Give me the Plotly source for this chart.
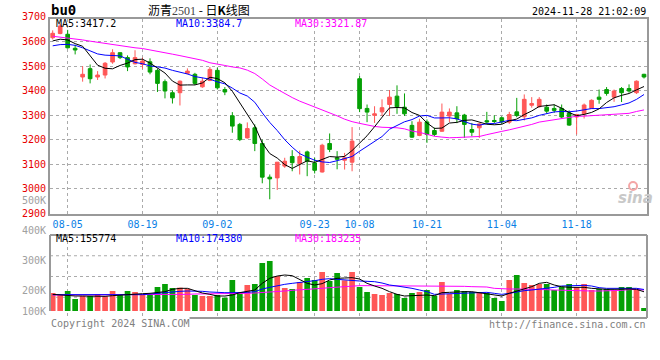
import plotly.graph_objects as go

# ---------------- data ----------------
dates = ["08-01", "08-02", "08-05", "08-06", "08-07", "08-08", "08-09", "08-12", "08-13", "08-14",
         "08-15", "08-16", "08-19", "08-20", "08-21", "08-22", "08-23", "08-26", "08-27", "08-28",
         "08-29", "08-30", "09-02", "09-03", "09-04", "09-05", "09-06", "09-09", "09-10", "09-11",
         "09-12", "09-13", "09-18", "09-19", "09-20", "09-23", "09-24", "09-25", "09-26", "09-27",
         "09-30", "10-08", "10-09", "10-10", "10-11", "10-14", "10-15", "10-16", "10-17", "10-18",
         "10-21", "10-22", "10-23", "10-24", "10-25", "10-28", "10-29", "10-30", "10-31", "11-01",
         "11-04", "11-05", "11-06", "11-07", "11-08", "11-11", "11-12", "11-13", "11-14", "11-15",
         "11-18", "11-19", "11-20", "11-21", "11-22", "11-25", "11-26", "11-27", "11-28", "11-29"]

opens = [3616, 3633, 3630, 3573, 3456, 3490, 3456, 3464, 3517, 3555,
         3535, 3510, 3507, 3518, 3483, 3437, 3392, 3392, 3471, 3467,
         3416, 3442, 3483, 3405, 3298, 3263, 3208, 3249, 3185, 3048,
         3045, 3093, 3132, 3103, 3151, 3106, 3069, 3185, 3127, 3117,
         3109, 3449, 3328, 3300, 3314, 3344, 3378, 3333, 3259, 3218,
         3273, 3238, 3235, 3297, 3310, 3301, 3242, 3249, 3278, 3279,
         3290, 3272, 3314, 3294, 3341, 3335, 3333, 3328, 3328, 3310,
         3293, 3306, 3328, 3374, 3405, 3374, 3409, 3409, 3392, 3467]
highs = [3646, 3672, 3648, 3587, 3500, 3507, 3480, 3517, 3569, 3556,
         3544, 3565, 3535, 3532, 3490, 3446, 3401, 3442, 3491, 3473,
         3453, 3497, 3494, 3415, 3313, 3269, 3271, 3263, 3201, 3059,
         3110, 3127, 3158, 3156, 3156, 3127, 3184, 3226, 3154, 3147,
         3252, 3460, 3344, 3337, 3365, 3403, 3422, 3389, 3276, 3286,
         3283, 3250, 3348, 3328, 3337, 3306, 3269, 3269, 3314, 3300,
         3295, 3314, 3371, 3385, 3374, 3374, 3344, 3344, 3344, 3320,
         3306, 3348, 3365, 3405, 3415, 3405, 3415, 3426, 3442, 3469]
lows = [3609, 3630, 3572, 3548, 3437, 3430, 3444, 3450, 3510, 3529,
        3480, 3507, 3490, 3467, 3395, 3369, 3348, 3340, 3467, 3423,
        3412, 3439, 3405, 3382, 3229, 3195, 3205, 3154, 3023, 2958,
        2996, 3086, 3072, 3059, 3052, 3063, 3067, 3150, 3080, 3079,
        3072, 3313, 3272, 3269, 3297, 3297, 3306, 3297, 3208, 3215,
        3188, 3215, 3233, 3272, 3268, 3208, 3215, 3208, 3265, 3268,
        3265, 3265, 3292, 3279, 3331, 3331, 3307, 3310, 3288, 3257,
        3222, 3287, 3327, 3347, 3380, 3355, 3354, 3392, 3387, 3450]
closes = [3634, 3664, 3575, 3566, 3467, 3449, 3464, 3512, 3555, 3535,
          3497, 3535, 3521, 3476, 3430, 3399, 3371, 3439, 3480, 3430,
          3439, 3487, 3412, 3395, 3256, 3201, 3246, 3185, 3048, 3041,
          3109, 3113, 3107, 3132, 3113, 3076, 3178, 3161, 3121, 3127,
          3195, 3327, 3313, 3306, 3331, 3374, 3335, 3306, 3211, 3272,
          3222, 3222, 3313, 3313, 3286, 3263, 3231, 3265, 3273, 3275,
          3273, 3303, 3299, 3365, 3348, 3365, 3317, 3320, 3293, 3260,
          3303, 3342, 3361, 3365, 3389, 3399, 3392, 3399, 3439, 3456]

volumes = [145800, 129600, 162000, 97200, 121500, 121500, 137700, 118800, 162000, 129600,
           162000, 153900, 129600, 129600, 194400, 218700, 186300, 189000, 180900, 129600,
           121500, 121500, 129600, 108000, 251100, 153900, 210600, 218700, 388800, 405000,
           283500, 186300, 178200, 234900, 267300, 251100, 315900, 243000, 307800, 248400,
           315900, 194400, 153900, 137700, 129600, 145800, 137700, 105300, 145800, 153900,
           170100, 124200, 234900, 137700, 170100, 162000, 153900, 153900, 145800, 105300,
           81000, 251100, 291600, 226800, 210600, 218700, 218700, 170100, 194400, 218700,
           194400, 218700, 170100, 178200, 178200, 170100, 194400, 194400, 170100, 24300]

ma5 = [3603, 3610, 3607, 3592, 3581.2, 3544.2, 3504.2, 3491.6, 3489.4, 3503.0,
       3512.6, 3526.8, 3528.6, 3512.8, 3491.8, 3472.2, 3439.4, 3423.0, 3423.8, 3423.8,
       3431.8, 3455.0, 3449.6, 3432.6, 3397.8, 3350.2, 3302.0, 3256.6, 3187.2, 3144.2,
       3125.8, 3099.2, 3083.6, 3100.4, 3114.8, 3108.2, 3121.2, 3132.0, 3129.8, 3132.6,
       3156.4, 3186.2, 3216.6, 3253.6, 3294.4, 3330.2, 3331.8, 3330.4, 3311.4, 3299.6,
       3269.2, 3246.6, 3248.0, 3268.4, 3271.2, 3279.4, 3281.2, 3271.6, 3263.6, 3261.4,
       3263.4, 3277.8, 3284.6, 3303.0, 3317.6, 3336.0, 3338.8, 3343.0, 3328.6, 3311.0,
       3298.6, 3303.6, 3311.8, 3326.2, 3352.0, 3371.2, 3381.2, 3388.8, 3403.6, 3417.2]
ma10 = [3583, 3588, 3589, 3585, 3575, 3562, 3550, 3545, 3543, 3542.1,
        3528.4, 3515.5, 3510.1, 3501.1, 3497.4, 3492.4, 3483.1, 3475.8, 3468.3, 3457.8,
        3452.0, 3447.2, 3436.3, 3428.2, 3410.8, 3391.0, 3378.5, 3353.1, 3309.9, 3271.0,
        3238.0, 3200.6, 3170.1, 3143.8, 3129.5, 3117.0, 3110.2, 3107.8, 3115.1, 3123.7,
        3132.3, 3153.7, 3174.3, 3191.7, 3213.5, 3243.3, 3259.0, 3273.5, 3282.5, 3297.0,
        3299.7, 3289.2, 3289.2, 3289.9, 3285.4, 3274.3, 3263.9, 3259.8, 3266.0, 3266.3,
        3271.4, 3279.5, 3278.1, 3283.3, 3289.5, 3299.7, 3308.3, 3313.8, 3315.8, 3314.3,
        3317.3, 3321.2, 3327.4, 3327.4, 3331.5, 3334.9, 3342.4, 3350.3, 3364.9, 3384.7]
ma30 = [3622, 3619, 3615, 3611, 3607, 3602, 3597, 3592, 3588, 3583,
        3578, 3575, 3572, 3567, 3560, 3555, 3549, 3543, 3537, 3531,
        3524, 3514, 3507, 3503, 3497, 3493, 3484, 3470, 3448, 3423.6,
        3406.1, 3387.8, 3372.2, 3357.7, 3345.9, 3333.5, 3323.9, 3312.2, 3297.8, 3284.2,
        3274.1, 3267.2, 3260.2, 3254.6, 3251.3, 3250.4, 3249.2, 3244.8, 3235.8, 3230.6,
        3223.3, 3214.5, 3211.2, 3208.5, 3209.5, 3211.5, 3211.0, 3213.7, 3221.2, 3229.0,
        3234.5, 3240.8, 3247.2, 3255.0, 3262.8, 3272.4, 3277.1, 3282.4, 3288.1, 3292.5,
        3296.1, 3296.6, 3298.2, 3300.2, 3302.1, 3303.0, 3304.9, 3308.0, 3315.6, 3321.87]

vol_ma5 = [135000, 129600, 126900, 121500, 121500, 118800, 116100, 118800, 124200, 129600,
           135000, 137700, 140400, 143100, 148500, 156600, 175500, 183600, 183600, 162000,
           145800, 135000, 121500, 121500, 129600, 148500, 156600, 170100, 224100, 264600,
           283500, 291600, 286200, 256500, 224100, 210600, 221400, 251100, 264600, 267300,
           270000, 259200, 224100, 202500, 183600, 156600, 135000, 121500, 124200, 129600,
           129600, 124200, 148500, 151200, 156600, 156600, 156600, 148500, 143100, 129600,
           121500, 143100, 162000, 183600, 197100, 224100, 232200, 210600, 197100, 191700,
           191700, 191700, 183600, 178200, 175500, 175500, 178200, 178200, 175500, 155774]
vol_ma10 = [132300, 132300, 129600, 129600, 129600, 129600, 129600, 129600, 129600, 129600,
            129600, 129600, 132300, 137700, 143100, 153900, 156600, 159300, 162000, 162000,
            159300, 153900, 148500, 148500, 148500, 148500, 151200, 156600, 178200, 191700,
            205200, 216000, 224100, 229500, 237600, 245700, 256500, 261900, 256500, 251100,
            243000, 243000, 240300, 237600, 226800, 210600, 202500, 194400, 183600, 170100,
            156600, 135000, 137700, 143100, 143100, 145800, 148500, 151200, 151200, 143100,
            135000, 143100, 156600, 164700, 170100, 175500, 183600, 191700, 202500, 205200,
            207900, 207900, 202500, 189000, 183600, 183600, 183600, 183600, 183600, 174380]
vol_ma30 = [129600, 129600, 129600, 129600, 129600, 129600, 129600, 129600, 129600, 129600,
            129600, 129600, 129600, 129600, 132300, 132300, 135000, 135000, 135000, 137700,
            137700, 137700, 137700, 137700, 137700, 137700, 143100, 145800, 148500, 156600,
            159300, 162000, 167400, 170100, 172800, 178200, 183600, 189000, 194400, 199800,
            202500, 205200, 205200, 205200, 205200, 205200, 199800, 199800, 199800, 199800,
            199800, 199800, 199800, 199800, 199800, 199800, 197100, 197100, 194400, 183600,
            178200, 178200, 178200, 178200, 178200, 175500, 172800, 170100, 167400, 164700,
            162000, 162000, 162000, 162000, 162000, 164700, 167400, 172800, 175500, 170100]

tick_dates = ["08-05", "08-19", "09-02", "09-23", "10-08", "10-21", "11-04", "11-18"]
price_ticks = [2900, 3000, 3100, 3200, 3300, 3400, 3500, 3600]
vol_labels = ["400K", "300K", "200K", "100K"]

# ---------------- style ----------------
RED = "#ff5757"
GREEN = "#05a005"
MONO = "DejaVu Sans Mono"
GRID = "#aaaaaa"
FRAME = "#999999"

W, H = 660, 360
L, R, T, B = 50, 11, 19, 42
PW, PH = W - L - R, H - T - B


def xp(px):
    return (px - L) / PW


def yp(py):
    return (H - B - py) / PH


bar_colors = [RED if c >= o else GREEN for o, c in zip(opens, closes)]

fig = go.Figure()

fig.add_trace(go.Candlestick(
    x=dates, open=opens, high=highs, low=lows, close=closes,
    increasing=dict(line=dict(color=RED, width=1), fillcolor=RED),
    decreasing=dict(line=dict(color=GREEN, width=1), fillcolor=GREEN),
    whiskerwidth=0, xaxis="x", yaxis="y", hoverinfo="skip"))

for vals, col in [(ma30, "#ff00ff"), (ma10, "#0000ff"), (ma5, "#000000")]:
    fig.add_trace(go.Scatter(x=dates, y=vals, mode="lines",
                             line=dict(color=col, width=1), xaxis="x", yaxis="y",
                             hoverinfo="skip"))

fig.add_trace(go.Bar(x=dates, y=volumes, marker=dict(color=bar_colors, line=dict(width=0)),
                     width=0.76, xaxis="x2", yaxis="y2", hoverinfo="skip"))

for vals, col in [(vol_ma30, "#ff00ff"), (vol_ma10, "#0000ff"), (vol_ma5, "#000000")]:
    fig.add_trace(go.Scatter(x=dates, y=vals, mode="lines",
                             line=dict(color=col, width=1), xaxis="x2", yaxis="y2",
                             hoverinfo="skip"))

main_bottom_px = 213.5
vol_top_px = 235
vol_zero_px = 311
vol_per_px = 8100

fig.update_layout(
    width=W, height=H,
    margin=dict(l=L, r=R, t=T, b=B),
    paper_bgcolor="white", plot_bgcolor="white",
    showlegend=False,
    hovermode=False,
    xaxis=dict(domain=[0, 1], anchor="y", type="category", range=[-0.36, 79.4],
               tickmode="array", tickvals=tick_dates, ticktext=tick_dates,
               showgrid=True, gridcolor=GRID, griddash="dot", gridwidth=1,
               showline=True, linecolor=FRAME, linewidth=2, mirror=True,
               ticks="", tickfont=dict(family=MONO, size=10, color="#0a7fe6"),
               rangeslider=dict(visible=False), zeroline=False, fixedrange=True),
    yaxis=dict(domain=[yp(main_bottom_px), 1], anchor="x",
               range=[2900, 2900 + (main_bottom_px - T) / 0.2455],
               tickmode="array", tickvals=price_ticks,
               showgrid=True, gridcolor=GRID, griddash="dot", gridwidth=1,
               showline=True, linecolor=FRAME, linewidth=2, mirror=True,
               ticks="", tickfont=dict(family=MONO, size=10, color="#e80000"),
               zeroline=False, fixedrange=True),
    xaxis2=dict(domain=[0, 1], anchor="y2", type="category", matches="x",
                range=[-0.36, 79.4], tickmode="array", tickvals=tick_dates,
                showticklabels=False, showgrid=True, gridcolor=GRID, griddash="dot",
                gridwidth=1, showline=False, ticks="", zeroline=False, fixedrange=True),
    yaxis2=dict(domain=[0, yp(vol_top_px)], anchor="x2",
                range=[-(H - B - vol_zero_px) * vol_per_px, (vol_zero_px - vol_top_px) * vol_per_px],
                showticklabels=False, showgrid=False, showline=False, ticks="",
                zeroline=False, fixedrange=True),
    bargap=0.24,
)

shapes = []
vt = yp(vol_top_px)
# volume panel frame
shapes.append(dict(type="line", xref="paper", yref="paper", x0=0, x1=1, y0=vt, y1=vt,
                   line=dict(color=FRAME, width=2)))
shapes.append(dict(type="line", xref="paper", yref="paper", x0=0, x1=0, y0=yp(vol_zero_px), y1=vt,
                   line=dict(color=FRAME, width=2)))
shapes.append(dict(type="line", xref="paper", yref="paper", x0=1, x1=1, y0=0, y1=vt,
                   line=dict(color=FRAME, width=2)))
shapes.append(dict(type="line", xref="paper", yref="paper", x0=xp(190), x1=1, y0=0, y1=0,
                   line=dict(color=FRAME, width=2)))
for f in [0.25, 0.5, 0.75]:
    shapes.append(dict(type="line", xref="paper", yref="y2 domain", x0=0, x1=1, y0=f, y1=f,
                       line=dict(color=GRID, width=1, dash="dot"), layer="below"))
fig.update_layout(shapes=shapes)

ann = []


def text(x, y, s, color="#000", size=10, anchor="left", family=MONO, yanchor="middle"):
    ann.append(dict(x=x, y=y, xref="paper", yref="paper", text=s, showarrow=False,
                    xanchor=anchor, yanchor=yanchor, borderpad=0,
                    font=dict(family=family, size=size, color=color)))


text(xp(50), yp(10), "<b>bu0</b>", size=14, family="DejaVu Sans Mono")
text(xp(200), yp(9.5), "沥青<span style='color:#444;font-family:Liberation Serif'>2501</span> - 日<b>K</b>线图",
     size=12, anchor="center", family="Noto Sans CJK SC")
text(xp(649), yp(11.5), "2024-11-28 21:02:09", anchor="right")
text(xp(47), yp(16), "3700", color="#e80000", anchor="right")
text(xp(47), yp(200.7), "500K", color="#a0a0a0", anchor="right")

text(xp(55), yp(24), "MA5:3417.2", color="#000000")
text(xp(175), yp(24), "MA10:3384.7", color="#0000ff")
text(xp(295), yp(24), "MA30:3321.87", color="#ff00ff")

text(xp(55), yp(238.5), "MA5:155774", color="#000000")
text(xp(175), yp(238.5), "MA10:174380", color="#0000ff")
text(xp(295), yp(238.5), "MA30:183235", color="#ff00ff")

for lab, py in zip(vol_labels, [230, 260, 290.7, 311]):
    text(xp(47), yp(py), lab, color="#a0a0a0", anchor="right")

text(xp(50), yp(323.5), "Copyright 2024 SINA.COM", color="#808080")
text(xp(649), yp(324), "http://finance.sina.com.cn", color="#808080", anchor="right")

# sina watermark
text(xp(637), yp(198), "<b><i>sina</i></b>", color="#c8c8c8", size=15, anchor="center",
     family="DejaVu Sans")
fig.update_layout(annotations=ann)
fig.add_shape(type="circle", xref="paper", yref="paper",
              x0=xp(631), x1=xp(639), y0=yp(190), y1=yp(182),
              line=dict(color="#f4a6a6", width=2))

fig.write_html("out.html", config={"displayModeBar": False},
               post_script="document.body.style.margin='0';document.body.style.padding='0';")
